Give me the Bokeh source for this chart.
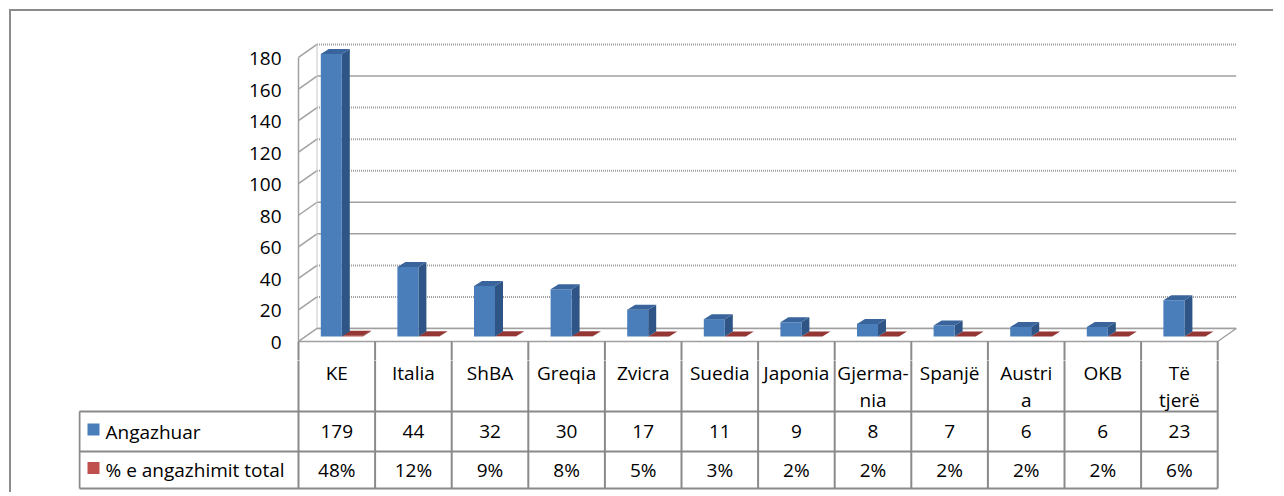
from bokeh.plotting import figure
from bokeh.layouts import column
from bokeh.models import Range1d, LinearAxis, FixedTicker
from bokeh.embed import file_html
from bokeh.resources import INLINE
from bokeh.core.properties import value

# ---------------- data ----------------
categories = ["KE", "Italia", "ShBA", "Greqia", "Zvicra", "Suedia", "Japonia",
              "Gjerma-\nnia", "Spanjë", "Austri\na", "OKB", "Të\ntjerë"]
angazhuar = [179, 44, 32, 30, 17, 11, 9, 8, 7, 6, 6, 23]
perqindje = [0.48, 0.12, 0.09, 0.08, 0.05, 0.03, 0.02, 0.02, 0.02, 0.02, 0.02, 0.06]
series_names = ["Angazhuar", "% e angazhimit total"]
y_ticks = [0, 20, 40, 60, 80, 100, 120, 140, 160, 180]

# ---------------- layout constants (page pixels) ----------------
OX, OY = 11, 11          # page position of layout content
W = 1262
FRAME_L = 298            # front-left floor corner
CW = 76.6                # px per category
PXV = 1.578              # px per value unit
BASE_Y = 336             # bar base
FRONT_Y = 341            # floor front edge
DDX, DDY = 18.5, 13      # wall depth
CHART_TOP, CHART_BOTTOM = 38, 360
PLOT_L, PLOT_R = 78, 1244
TABLE_BOTTOM = 492
FONT = "Open Sans"
FS = "19px"

N = len(categories)
BLUE, BLUE_SIDE, BLUE_TOP = "#4a7ebb", "#2e5585", "#3a659c"
RED, RED_SIDE, RED_TOP = "#c0504d", "#7a2a28", "#943634"
GRID = "#a0a0a0"
TLINE = "#8a8a8a"

x_range = Range1d((PLOT_L - FRAME_L) / CW, (PLOT_R - FRAME_L) / CW)
leg_x = (PLOT_L - FRAME_L) / CW

# ---------------- chart figure ----------------
y0 = (BASE_Y - CHART_BOTTOM) / PXV
y1 = (BASE_Y - CHART_TOP) / PXV
p = figure(width=W, height=CHART_BOTTOM - OY, output_backend="svg", toolbar_location=None,
           x_axis_type=None, y_axis_type=None,
           x_range=x_range, y_range=Range1d(y0, y1),
           min_border_left=PLOT_L - OX, min_border_right=OX + W - PLOT_R,
           min_border_top=CHART_TOP - OY, min_border_bottom=0)
p.outline_line_color = None
p.background_fill_color = "white"
p.border_fill_color = "white"

shift = (FRONT_Y + 1 - BASE_Y) / PXV
p.extra_y_ranges = {"front": Range1d(y0 + shift, y1 + shift)}
ax = LinearAxis(y_range_name="front", ticker=FixedTicker(ticks=y_ticks), fixed_location=0,
                axis_line_color=None, major_tick_line_color=None, minor_tick_line_color=None,
                major_tick_out=0, major_tick_in=0, major_label_standoff=17,
                major_label_text_font=FONT, major_label_text_font_size=FS,
                major_label_text_color="black")
p.add_layout(ax, "left")

dxu = DDX / CW
back0 = (BASE_Y - (FRONT_Y - DDY)) / PXV
front0 = (BASE_Y - FRONT_Y) / PXV

# back wall grid lines (textured look alternates)
textured = [False, True, True, False, False, True, True, True, False, True]
for tex_flag in (True, False):
    xs = [[dxu, N + dxu] for v, tf in zip(y_ticks, textured) if tf == tex_flag]
    ys = [[v + back0, v + back0] for v, tf in zip(y_ticks, textured) if tf == tex_flag]
    if tex_flag:
        p.multi_line(xs, ys, line_color="#a0a0a0", line_width=2, line_dash="1 1")
    else:
        p.multi_line(xs, ys, line_color=GRID, line_width=1.5)

# left wall lines
p.multi_line([[0, dxu] for v in y_ticks], [[v + front0, v + back0] for v in y_ticks],
             line_color="#a0a0a0", line_width=1.5)
p.segment(x0=[0], y0=[front0], x1=[0], y1=[y_ticks[-1] + front0], line_color="#a0a0a0", line_width=1.5)
p.segment(x0=[dxu], y0=[back0], x1=[dxu], y1=[y_ticks[-1] + back0], line_color="#c8c8c8", line_width=1)

# floor
p.patch([0, N, N + dxu, dxu], [front0, front0, back0, back0],
        fill_color="white", line_color="#a0a0a0", line_width=1.5)

# table header vertical lines inside chart figure (below floor front edge)
p.segment(x0=list(range(N + 1)), y0=[front0] * (N + 1), x1=list(range(N + 1)), y1=[y0] * (N + 1),
          line_color=TLINE, line_width=2)


def bar3d(values, l_off, r_off, c_front, c_side, c_top):
    bdx = 8 / CW
    bdy = 5 / PXV
    ls = [i + 0.5 + l_off / CW for i in range(N)]
    rs = [i + 0.5 + r_off / CW for i in range(N)]
    p.patches([[r, r + bdx, r + bdx, r] for r in rs],
              [[0, bdy, v + bdy, v] for v in values], fill_color=c_side, line_color=None)
    p.quad(left=ls, right=rs, bottom=[0] * N, top=values, fill_color=c_front, line_color=None)
    p.patches([[l, r, r + bdx, l + bdx] for l, r in zip(ls, rs)],
              [[v, v, v + bdy, v + bdy] for v in values], fill_color=c_top, line_color=None)


bar3d(perqindje, 5, 26, RED, RED_SIDE, RED_TOP)
bar3d(angazhuar, -16, 5, BLUE, BLUE_SIDE, BLUE_TOP)

# ---------------- data table figure ----------------
TH = TABLE_BOTTOM - CHART_BOTTOM
t = figure(width=W, height=TH, output_backend="svg", toolbar_location=None,
           x_axis_type=None, y_axis_type=None,
           x_range=x_range, y_range=Range1d(TH, 0),
           min_border_left=PLOT_L - OX, min_border_right=OX + W - PLOT_R,
           min_border_top=0, min_border_bottom=0)
t.outline_line_color = None
t.border_fill_color = "white"

r_head = 411 - CHART_BOTTOM
r_row1 = 451 - CHART_BOTTOM
r_row2 = 488 - CHART_BOTTOM
lx = leg_x + 1 / CW

t.segment(x0=[lx] * 3, y0=[r_head, r_row1, r_row2], x1=[N] * 3, y1=[r_head, r_row1, r_row2],
          line_color=TLINE, line_width=2)
t.segment(x0=list(range(N + 1)), y0=[-1] * (N + 1), x1=list(range(N + 1)), y1=[r_row2] * (N + 1),
          line_color=TLINE, line_width=2)
t.segment(x0=[lx], y0=[r_head], x1=[lx], y1=[r_row2], line_color=TLINE, line_width=2)

cx = [i + 0.5 for i in range(N)]
line1 = [c.split("\n")[0] for c in categories]
line2 = [c.split("\n")[1] if "\n" in c else "" for c in categories]
txt = dict(text_align="center", text_baseline="middle", text_font=value(FONT),
           text_font_size=FS, text_color="black")
t.text(x=cx, y=[372 - CHART_BOTTOM] * N, text=line1, **txt)
t.text(x=cx, y=[399 - CHART_BOTTOM] * N, text=line2, **txt)
t.text(x=cx, y=[431 - CHART_BOTTOM] * N, text=[str(v) for v in angazhuar], **txt)
t.text(x=cx, y=[469.5 - CHART_BOTTOM] * N, text=[f"{round(v * 100)}%" for v in perqindje], **txt)

sq_x = (93 - FRAME_L) / CW
t.rect(x=[sq_x, sq_x], y=[429 - CHART_BOTTOM, 467.5 - CHART_BOTTOM], width=12, height=12,
       width_units="screen", height_units="screen", fill_color=[BLUE, RED], line_color=None)
t.text(x=[(105 - FRAME_L) / CW] * 2, y=[431 - CHART_BOTTOM, 469.5 - CHART_BOTTOM], text=series_names,
       text_align="left", text_baseline="middle", text_font=value(FONT), text_font_size=FS,
       text_color="black")

layout = column(p, t, margin=(OY - 2, 0, 0, OX - 2),
                styles={"border-top": "2px solid #8c8c8c", "border-left": "2px solid #8c8c8c"})
open("out.html", "w").write(file_html(layout, INLINE))
